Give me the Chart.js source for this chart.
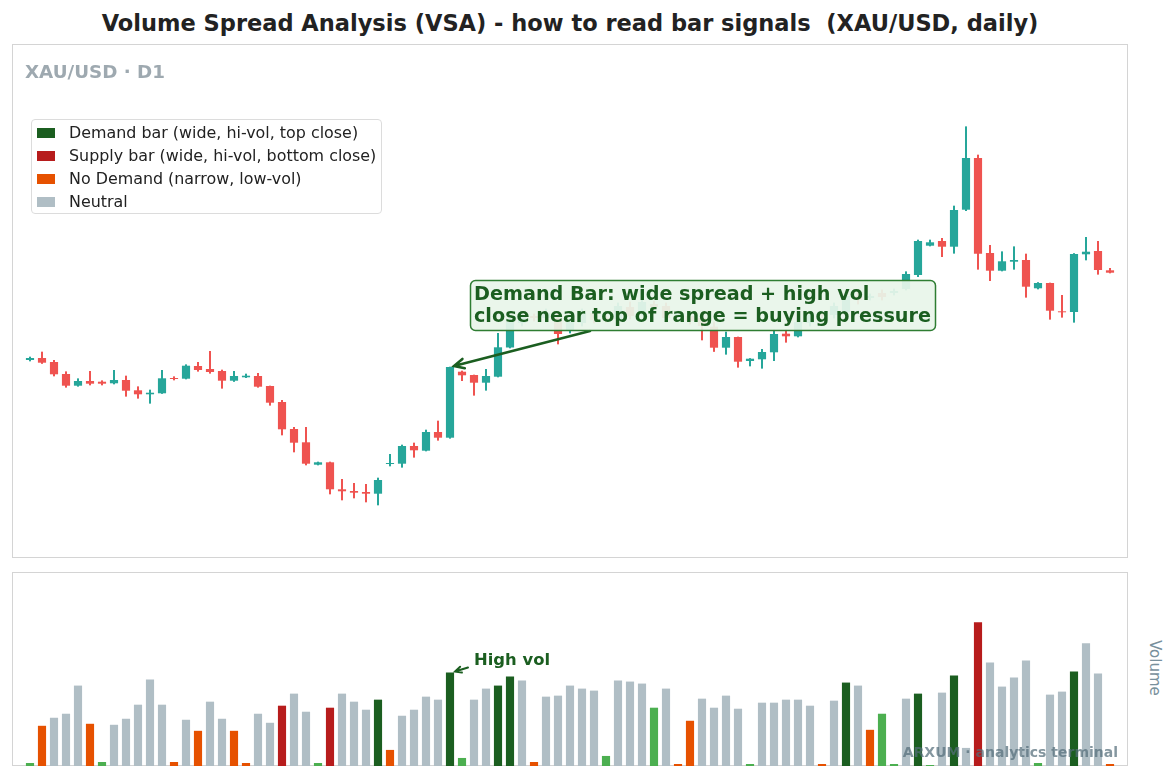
<!DOCTYPE html>
<html>
<head>
<meta charset="utf-8">
<title>VSA - XAU/USD daily</title>
<script src="https://cdn.jsdelivr.net/npm/chart.js@4.4.1/dist/chart.umd.min.js"></script>
<style>
  html, body { margin: 0; padding: 0; background: #fff; }
  body { width: 1175px; height: 777px; position: relative; overflow: hidden;
         font-family: "DejaVu Sans", sans-serif; }
  #title { position: absolute; left: 0; top: 10px; width: 1140px; text-align: center;
           font-weight: bold; font-size: 22.5px; color: #222; white-space: pre; }
  .panel { position: absolute; }
  #pricePanel { left: 12px; top: 44px; width: 1116px; height: 514px; }
  #volPanel { left: 12px; top: 572px; width: 1116px; height: 194px; }
  #sub { position: absolute; left: 25px; top: 61px; font-weight: bold; font-size: 18.3px;
         color: #9ea9b0; }
  #legend { position: absolute; left: 31px; top: 119px; width: 349px; height: 93px;
            border: 1px solid #dcdcdc; border-radius: 4px; background: rgba(255,255,255,0.85); }
  .row { position: absolute; left: 5px; height: 20px; font-size: 15.9px; color: #222;
         white-space: nowrap; }
  .sw { position: absolute; left: 0; top: 5px; width: 18px; height: 10px; }
  .lbl { position: absolute; left: 32px; top: 0px; }
  #vlabel { position: absolute; left: 1146px; top: 640px; writing-mode: vertical-rl;
            font-size: 15px; color: #78909c; }
</style>
</head>
<body>
<div id="title">Volume Spread Analysis (VSA) - how to read bar signals  (XAU/USD, daily)</div>
<div class="panel" id="pricePanel"><canvas id="priceChart" width="1116" height="514"></canvas></div>
<div class="panel" id="volPanel"><canvas id="volChart" width="1116" height="194"></canvas></div>
<div id="sub">XAU/USD · D1</div>
<div id="legend"></div>
<div id="vlabel">Volume</div>

<script>
/* ================= DATA ================= */
const opens = [2040, 2042, 2038, 2026, 2014.3, 2019, 2018.3, 2016.7, 2020, 2009.7,
  2005.7, 2006.7, 2022, 2021.3, 2034, 2031, 2029, 2019.3, 2022.7, 2024,
  2014, 1998, 1971, 1957.7, 1935.3, 1937.7, 1910.7, 1909, 1908, 1906.3,
  1936, 1936.3, 1954, 1949.3, 1968, 1962.3, 2028.3, 2025, 2017.3, 2023.3,
  2052.5, 2077, 2084, 2082, 2082, 2069, 2077, 2087, 2082, 2081,
  2093, 2088, 2096, 2094, 2085, 2084, 2082, 2073.3, 2052.3, 2063,
  2039, 2040.7, 2047.7, 2066.3, 2063.7, 2077, 2086, 2085, 2088, 2104,
  2102, 2107, 2107, 2111, 2125, 2154.3, 2159, 2153.3, 2190.3, 2242,
  2147, 2129.3, 2138.3, 2140, 2111.7, 2117, 2088.7, 2088, 2145.7, 2149, 2129.7];
const highs = [2043, 2048, 2039.7, 2028.3, 2021.3, 2028.7, 2019.3, 2029.7, 2024, 2013.3,
  2010, 2029.7, 2023.3, 2035.3, 2037.7, 2048.7, 2030, 2028.7, 2026, 2026.7,
  2014, 1999.7, 1972.7, 1972.7, 1938, 1938, 1920.7, 1916.7, 1915.7, 1922,
  1945.7, 1955, 1957, 1970, 1979, 2033, 2029, 2025, 2030.7, 2066.7,
  2083, 2088, 2086, 2091, 2088, 2082, 2091, 2092, 2084, 2097,
  2098, 2102, 2099, 2097, 2089, 2087, 2087, 2078, 2068, 2063,
  2041.5, 2050.7, 2070, 2070, 2082, 2088, 2088, 2097, 2106, 2108,
  2106, 2110, 2111, 2128.3, 2160, 2160, 2161.7, 2194, 2273.3, 2245,
  2154.7, 2148.3, 2153.3, 2146, 2117.5, 2117, 2104.7, 2146.5, 2162.7, 2158.7, 2131.7];
const lows = [2039, 2036.5, 2024, 2012.7, 2013.7, 2015, 2015, 2016, 2003.7, 2001.7,
  1996.7, 2006.5, 2020, 2021, 2028.7, 2026.7, 2011.7, 2018.5, 2022.3, 2012.7,
  1994.7, 1965, 1948, 1935, 1935, 1906, 1900, 1902, 1898, 1895,
  1934, 1932.7, 1942.7, 1949, 1959.7, 1961.7, 2019.3, 2004.7, 2009.7, 2023,
  2052, 2074, 2079, 2078, 2056, 2067, 2074, 2077, 2078, 2079,
  2081, 2085, 2090, 2078, 2083, 2076, 2060, 2048.5, 2045.7, 2032.7,
  2034, 2031.7, 2039.3, 2057.7, 2063, 2074, 2082, 2082, 2087, 2096,
  2100, 2100, 2105, 2110, 2123.3, 2154, 2143.3, 2146.7, 2189.3, 2130.7,
  2119.3, 2129, 2130.7, 2102.7, 2111, 2080.7, 2082.7, 2077.7, 2140, 2125.7, 2127];
const closes = [2042, 2037.3, 2025.7, 2014.3, 2019, 2016.3, 2016.3, 2020, 2009.3, 2005.7,
  2007.3, 2021.7, 2021, 2034.3, 2030, 2028, 2019.3, 2024, 2024.3, 2013.3,
  1997.3, 1970.7, 1957.3, 1936.3, 1937.7, 1910.7, 1908.7, 1907.3, 1906.3, 1920,
  1937, 1954, 1949.7, 1968, 1962.3, 2033, 2024.7, 2017.3, 2024, 2052.7,
  2078, 2084, 2082, 2087, 2066, 2078, 2088, 2080, 2080, 2094,
  2084, 2098, 2093, 2082, 2087, 2079, 2074, 2052.3, 2063, 2038.3,
  2041.3, 2048, 2066, 2063.7, 2078, 2085, 2084, 2094, 2104, 2100,
  2104, 2103, 2109, 2126, 2159, 2157.7, 2153.3, 2190, 2242, 2146.3,
  2129.3, 2138.7, 2140, 2113.3, 2117, 2089.3, 2087.7, 2146, 2148.3, 2130, 2127.3];

// volume (thousand lots) and VSA class of every bar
const volumes = [3, 40, 48, 52, 80, 42, 4, 41, 47, 61,
  86, 61, 4, 46, 35, 64, 47, 35, 3, 52,
  43, 60, 72, 54, 3, 58, 72, 64, 56, 66,
  16, 50, 56, 69, 66, 93, 8, 66, 77, 80,
  89, 85, 4, 69, 70, 80, 77, 75, 10, 85,
  84, 82, 58, 77, 2, 45, 67, 58, 70, 57,
  2, 63, 63, 66, 66, 60, 2, 65, 83, 80,
  36, 52, 2, 67, 72, 1, 73, 90, 18, 143,
  103, 79, 88, 105, 3, 71, 74, 94, 122, 92, 2];
const vsaClass = ["NS","ND","N","N","N","ND","NS","N","N","N",
  "N","N","ND","N","ND","N","N","ND","ND","N",
  "N","S","N","N","NS","S","N","N","N","D",
  "ND","N","N","N","N","D","NS","N","N","D",
  "D","N","ND","N","N","N","N","N","NS","N",
  "N","N","NS","N","ND","ND","N","N","N","N",
  "NS","N","N","N","N","N","ND","N","D","N",
  "ND","NS","NS","N","D","NS","N","D","N","S",
  "N","N","N","N","NS","N","N","D","N","N","ND"];

const classColors = { D: "#1b5e20", S: "#b71c1c", ND: "#e65100", NS: "#4caf50", N: "#b0bec5" };
const legendKeys = ["D", "S", "ND", "N"];
const legendNames = ["Demand bar (wide, hi-vol, top close)", "Supply bar (wide, hi-vol, bottom close)",
  "No Demand (narrow, low-vol)", "Neutral"];

const demandIndex = 35;
const noteLines = ["Demand Bar: wide spread + high vol", "close near top of range = buying pressure"];

/* ================= HELPERS ================= */
const UP = "#26a69a", DOWN = "#ef5350", INK = "#1b5e20";
const labels = opens.map((_, i) => "D" + (i + 1));
const candleColors = opens.map((o, i) => closes[i] >= o ? UP : DOWN);

const frame = {
  id: "frame",
  beforeDraw(chart) {
    const { ctx, width, height } = chart;
    ctx.save();
    ctx.strokeStyle = "#d4d4d4";
    ctx.lineWidth = 1;
    ctx.strokeRect(0.5, 0.5, width - 1, height - 1);
    ctx.restore();
  }
};

function arrow(ctx, x0, y0, x1, y1, head, width) {
  const a = Math.atan2(y1 - y0, x1 - x0);
  ctx.save();
  ctx.strokeStyle = INK;
  ctx.lineWidth = width;
  ctx.lineCap = "round";
  ctx.beginPath();
  ctx.moveTo(x0, y0);
  ctx.lineTo(x1, y1);
  ctx.moveTo(x1 - head * Math.cos(a - 0.45), y1 - head * Math.sin(a - 0.45));
  ctx.lineTo(x1, y1);
  ctx.lineTo(x1 - head * Math.cos(a + 0.45), y1 - head * Math.sin(a + 0.45));
  ctx.stroke();
  ctx.restore();
}

function roundRect(ctx, x, y, w, h, r) {
  ctx.beginPath();
  ctx.moveTo(x + r, y);
  ctx.arcTo(x + w, y, x + w, y + h, r);
  ctx.arcTo(x + w, y + h, x, y + h, r);
  ctx.arcTo(x, y + h, x, y, r);
  ctx.arcTo(x, y, x + w, y, r);
  ctx.closePath();
}

/* ================= PRICE CHART ================= */
const demandNote = {
  id: "demandNote",
  afterDatasetsDraw(chart) {
    const { ctx, scales: { x, y } } = chart;
    const tx = x.getPixelForValue(demandIndex) + 4;
    const ty = y.getPixelForValue(highs[demandIndex]) - 1;
    arrow(ctx, 578, 287, tx, ty, 11, 2.6);

    ctx.save();
    roundRect(ctx, 458.5, 236.5, 465, 50, 5);
    ctx.fillStyle = "rgba(232,245,233,0.93)";
    ctx.fill();
    ctx.strokeStyle = "#2e7d32";
    ctx.lineWidth = 1.5;
    ctx.stroke();
    ctx.fillStyle = INK;
    ctx.font = "bold 19.2px 'DejaVu Sans'";
    ctx.textBaseline = "middle";
    ctx.fillText(noteLines[0], 462, 251);
    ctx.fillText(noteLines[1], 462, 273);
    ctx.restore();
  }
};

new Chart(document.getElementById("priceChart"), {
  type: "bar",
  data: {
    labels,
    datasets: [
      {
        label: "wick",
        data: lows.map((l, i) => [l, highs[i]]),
        backgroundColor: candleColors,
        barThickness: 1.4,
        grouped: false
      },
      {
        label: "body",
        data: opens.map((o, i) => [o, closes[i]]),
        backgroundColor: candleColors,
        barPercentage: 0.68,
        categoryPercentage: 1,
        grouped: false
      }
    ]
  },
  options: {
    responsive: false,
    animation: false,
    layout: { padding: { left: 12, right: 12, top: 0, bottom: 0 } },
    plugins: { legend: { display: false }, tooltip: { enabled: false } },
    scales: {
      x: { display: false, offset: true, grid: { display: false } },
      y: { display: false, min: 1842, max: 2356 }
    }
  },
  plugins: [frame, demandNote]
});

/* ================= VOLUME CHART ================= */
const volNote = {
  id: "volNote",
  afterDatasetsDraw(chart) {
    const { ctx, scales: { x, y } } = chart;
    const tx = x.getPixelForValue(demandIndex) + 5;
    const ty = y.getPixelForValue(volumes[demandIndex]) - 1;
    arrow(ctx, tx + 13, ty - 4, tx, ty, 7, 2);

    ctx.save();
    ctx.fillStyle = INK;
    ctx.font = "bold 16.4px 'DejaVu Sans'";
    ctx.textBaseline = "middle";
    ctx.fillText("High vol", 462, 89);

    ctx.fillStyle = "rgba(84,110,122,0.72)";
    ctx.font = "bold 14px 'DejaVu Sans'";
    ctx.textAlign = "right";
    ctx.fillText("ARXUM · analytics terminal", 1106, 181);
    ctx.restore();
  }
};

new Chart(document.getElementById("volChart"), {
  type: "bar",
  data: {
    labels,
    datasets: [{
      label: "Volume",
      data: volumes,
      backgroundColor: vsaClass.map(c => classColors[c]),
      barPercentage: 0.68,
      categoryPercentage: 1
    }]
  },
  options: {
    responsive: false,
    animation: false,
    layout: { padding: { left: 12, right: 12, top: 0, bottom: 0 } },
    plugins: { legend: { display: false }, tooltip: { enabled: false } },
    scales: {
      x: { display: false, offset: true },
      y: { display: false, min: 0, max: 193 }
    }
  },
  plugins: [frame, volNote]
});

/* ================= LEGEND ================= */
const legendBox = document.getElementById("legend");
legendKeys.forEach((k, i) => {
  const row = document.createElement("div");
  row.className = "row";
  row.style.top = (3 + i * 23) + "px";
  row.innerHTML = `<span class="sw" style="background:${classColors[k]}"></span><span class="lbl">${legendNames[i]}</span>`;
  legendBox.appendChild(row);
});
</script>
</body>
</html>
